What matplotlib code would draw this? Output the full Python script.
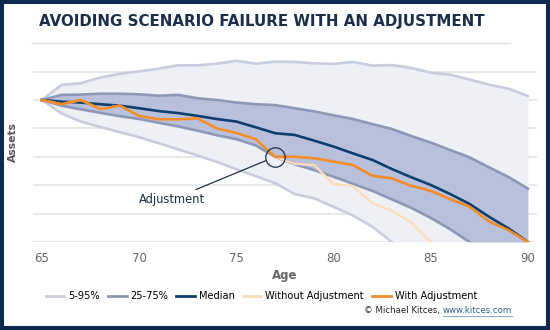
import numpy as np
import matplotlib.pyplot as plt
from matplotlib.lines import Line2D
from matplotlib.patches import Rectangle

# Возраст и уровни активов (условные единицы, сетка = 1)
ages = np.arange(65, 91)

p95 = [5.0, 5.53, 5.59, 5.79, 5.92, 6.01, 6.10, 6.22, 6.22, 6.28, 6.38, 6.28, 6.35,
       6.34, 6.29, 6.27, 6.34, 6.21, 6.23, 6.13, 5.96, 5.89, 5.72, 5.54, 5.40, 5.14]
p5 = [5.0, 4.53, 4.24, 4.05, 3.87, 3.69, 3.48, 3.26, 3.05, 2.82, 2.56, 2.32, 2.07,
      1.69, 1.54, 1.24, 0.93, 0.54, 0.0, np.nan, np.nan, np.nan, np.nan, np.nan, np.nan, np.nan]
p75 = [5.0, 5.18, 5.19, 5.22, 5.22, 5.20, 5.15, 5.18, 5.06, 5.00, 4.91, 4.85, 4.82,
       4.71, 4.60, 4.46, 4.33, 4.15, 3.98, 3.73, 3.50, 3.24, 2.98, 2.63, 2.29, 1.88]
p25 = [5.0, 4.80, 4.67, 4.55, 4.43, 4.33, 4.20, 4.07, 3.92, 3.76, 3.62, 3.40, 3.00,
       2.74, 2.53, 2.30, 2.05, 1.80, 1.50, 1.20, 0.85, 0.45, 0.0, np.nan, np.nan, np.nan]
median = [5.0, 4.94, 4.91, 4.85, 4.80, 4.71, 4.61, 4.54, 4.44, 4.33, 4.24, 4.04, 3.83,
          3.77, 3.57, 3.36, 3.12, 2.89, 2.57, 2.28, 2.01, 1.69, 1.34, 0.89, 0.48, 0.0]
with_adj = [5.0, 4.85, 5.0, 4.68, 4.80, 4.44, 4.32, 4.32, 4.35, 4.0, 3.84, 3.62, 3.0,
            3.0, 2.95, 2.83, 2.71, 2.33, 2.24, 1.98, 1.80, 1.51, 1.24, 0.72, 0.42, 0.0]
without_adj = with_adj[:13] + [2.75, 2.71, 2.04, 1.97, 1.36, 1.10, 0.69, 0.0,
                               np.nan, np.nan, np.nan, np.nan, np.nan]

adj_age, adj_value = 77, 3.0

# Цвета
c_out_line, c_out_fill = '#c8ccde', '#eef0f6'
c_in_line, c_in_fill = '#8d97b7', '#b8c0dc'
c_median = '#0f3f6e'
c_with = '#f28c28'
c_without = '#fddcb8'
navy = '#1b2f4b'

fig = plt.figure(figsize=(5.5, 3.3), dpi=100)
ax = fig.add_axes([0.06, 0.2667, 0.916, 0.5594])

p5_fill = np.nan_to_num(np.array(p5, dtype=float))
p25_fill = np.nan_to_num(np.array(p25, dtype=float))
ax.fill_between(ages, p5_fill, p95, color=c_out_fill, lw=0, zorder=1)
ax.fill_between(ages, p25_fill, p75, color=c_in_fill, lw=0, zorder=2)

ax.plot(ages, p95, color=c_out_line, lw=1.9, zorder=3)
ax.plot(ages, p5, color=c_out_line, lw=1.9, zorder=3)
ax.plot(ages, p75, color=c_in_line, lw=1.9, zorder=3)
ax.plot(ages, p25, color=c_in_line, lw=1.9, zorder=3)
ax.plot(ages, median, color=c_median, lw=1.9, zorder=4)
ax.plot(ages, without_adj, color=c_without, lw=1.6, zorder=4)
ax.plot(ages, with_adj, color=c_with, lw=1.9, zorder=5)

# Отметка корректировки
ax.plot(adj_age, adj_value, 'o', ms=14, mfc='none', mec=navy, mew=0.9, zorder=6)
ax.annotate('Adjustment', xy=(adj_age, adj_value), xytext=(71.7, 1.5),
            ha='center', va='center', fontsize=8.3, color=navy,
            arrowprops=dict(arrowstyle='-', color=navy, lw=0.9,
                            shrinkA=1, shrinkB=7.5), zorder=6)

ax.set_xlim(64.54, 90.46)
ax.set_ylim(0, 6.5)
ax.set_xticks(range(65, 91, 5))
ax.set_yticks(range(0, 7))
ax.set_yticklabels([])
ax.grid(axis='y', color='#e2e2e2', lw=1.1, zorder=0)
ax.set_axisbelow(True)
ax.tick_params(length=0, labelsize=8.5, labelcolor='#666666', pad=7)
for s in ax.spines.values():
    s.set_visible(False)
ax.set_facecolor('none')
ax.set_xlabel('Age', fontsize=8.5, fontweight='bold', color='#666666', labelpad=3)
ax.set_ylabel('Assets', fontsize=7.8, fontweight='bold', color='#555555')
ax.yaxis.set_label_coords(-0.03, 0.54)

# Заголовок
fig.text(0.4755, 0.936, 'AVOIDING SCENARIO FAILURE WITH AN ADJUSTMENT',
         ha='center', va='center', fontsize=10.8, fontweight='bold', color=navy)
fig.add_artist(Line2D([32 / 550, 510 / 550], [0.870, 0.870], color='#e0e0e0', lw=1))

# Легенда
handles = [Line2D([], [], color=c_out_line, lw=2),
           Line2D([], [], color=c_in_line, lw=2),
           Line2D([], [], color=c_median, lw=2),
           Line2D([], [], color=c_without, lw=2),
           Line2D([], [], color=c_with, lw=2)]
labels = ['5-95%', '25-75%', 'Median', 'Without Adjustment', 'With Adjustment']
fig.legend(handles, labels, loc='center', bbox_to_anchor=(0.475, 0.103), ncol=5,
           frameon=False, fontsize=7.1, handlelength=1.9, handletextpad=0.4,
           columnspacing=0.8)

# Подпись
link = fig.text(0.931, 0.058, 'www.kitces.com', ha='right', va='center',
                fontsize=6.2, color='#2f5f94')
fig.canvas.draw()
bb = link.get_window_extent()
fig.text(bb.x0 / 550, 0.058, '© Michael Kitces, ', ha='right', va='center',
         fontsize=6.2, color='#222222')
fig.add_artist(Line2D([bb.x0 / 550, bb.x1 / 550], [(bb.y0 - 0.5) / 330] * 2,
                      color='#8fb0d6', lw=0.8))

# Рамка
fig.patches.append(Rectangle((0, 0), 1, 1, transform=fig.transFigure, fill=False,
                             edgecolor='#0b2a4e', lw=5.8))

fig.savefig('out.png', dpi=100)
